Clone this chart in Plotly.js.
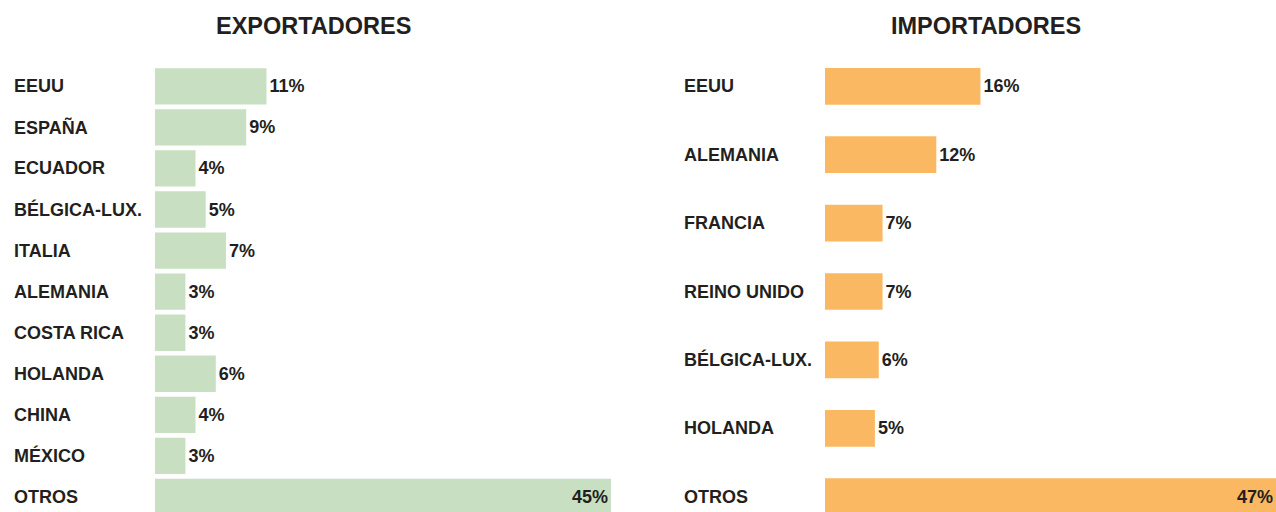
<!DOCTYPE html>
<html>
<head>
<meta charset="utf-8">
<script src="https://cdn.plot.ly/plotly-3.0.1.min.js"></script>
<style>html,body{margin:0;padding:0;background:#fff;}#chart{width:1276px;height:512px;}</style>
</head>
<body>
<div id="chart"></div>
<script>
const expCategories = ["EEUU","ESPAÑA","ECUADOR","BÉLGICA-LUX.","ITALIA","ALEMANIA","COSTA RICA","HOLANDA","CHINA","MÉXICO","OTROS"];
const expValues = [11, 9, 4, 5, 7, 3, 3, 6, 4, 3, 45];
const expLabels = ["11%","9%","4%","5%","7%","3%","3%","6%","4%","3%","45%"];

const impCategories = ["EEUU","ALEMANIA","FRANCIA","REINO UNIDO","BÉLGICA-LUX.","HOLANDA","OTROS"];
const impValues = [16.2, 11.6, 6.0, 6.0, 5.6, 5.2, 47];
const impLabels = ["16%","12%","7%","7%","6%","5%","47%"];

const titles = ["EXPORTADORES","IMPORTADORES"];

const W = 1276, H = 512;
const FAM = "Liberation Sans, Arial, sans-serif";
const txt = {family: FAM, size: 18, color: "#231f20", weight: 700};

function positions(n){ return Array.from({length:n}, (_,i)=> i === n-1 ? "inside" : "outside"); }

const traces = [
  {
    type: "bar", orientation: "h",
    x: expValues, y: expCategories,
    xaxis: "x", yaxis: "y",
    width: 0.885,
    marker: {color: "#c8dfc1"},
    text: expLabels, textposition: positions(expValues.length),
    insidetextanchor: "end",
    textfont: txt, outsidetextfont: txt, insidetextfont: txt,
    constraintext: "none", cliponaxis: false,
    hoverinfo: "skip"
  },
  {
    type: "bar", orientation: "h",
    x: impValues, y: impCategories,
    xaxis: "x2", yaxis: "y2",
    width: 0.537,
    marker: {color: "#fbb862"},
    text: impLabels, textposition: positions(impValues.length),
    insidetextanchor: "end",
    textfont: txt, outsidetextfont: txt, insidetextfont: txt,
    constraintext: "none", cliponaxis: false,
    hoverinfo: "skip"
  }
];

const hidden = {showgrid:false, zeroline:false, showline:false, showticklabels:false, ticks:"", fixedrange:true};

const annotations = [];
expCategories.forEach((c,i)=>annotations.push({
  xref:"paper", yref:"y", x: 12/W, y: i, xanchor:"left", yanchor:"middle",
  text: c, showarrow:false, font: txt
}));
impCategories.forEach((c,i)=>annotations.push({
  xref:"paper", yref:"y2", x: 682/W, y: i, xanchor:"left", yanchor:"middle",
  text: c, showarrow:false, font: txt
}));
annotations.push({xref:"paper", yref:"paper", x: 313/W, y: 1 - 26/H, xanchor:"center", yanchor:"middle",
  text: titles[0], showarrow:false, font:{family:FAM, size:23.5, color:"#231f20", weight:700}});
annotations.push({xref:"paper", yref:"paper", x: 985.5/W, y: 1 - 26/H, xanchor:"center", yanchor:"middle",
  text: titles[1], showarrow:false, font:{family:FAM, size:23.5, color:"#231f20", weight:700}});

const layout = {
  width: W, height: H,
  margin: {l:0, r:0, t:0, b:0, pad:0},
  paper_bgcolor: "#ffffff", plot_bgcolor: "rgba(0,0,0,0)",
  showlegend: false,
  font: {family: FAM},
  xaxis: Object.assign({domain:[155/W, 611/W], range:[0, 45], anchor:"y"}, hidden),
  yaxis: Object.assign({domain:[0,1], type:"category", range:[(512-86.3)/41.07, -86.3/41.07], anchor:"x"}, hidden),
  xaxis2: Object.assign({domain:[825/W, 1], range:[0, 47], anchor:"y2"}, hidden),
  yaxis2: Object.assign({domain:[0,1], type:"category", range:[(512-86.3)/68.4, -86.3/68.4], anchor:"x2"}, hidden),
  annotations: annotations
};

Plotly.newPlot("chart", traces, layout, {displayModeBar:false, staticPlot:true});
</script>
</body>
</html>
